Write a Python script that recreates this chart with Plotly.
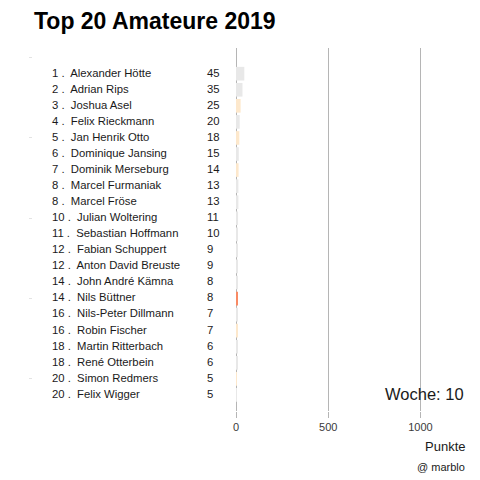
import plotly.graph_objects as go

ranks = [1, 2, 3, 4, 5, 6, 7, 8, 8, 10, 11, 12, 12, 14, 14, 16, 16, 18, 18, 20, 20]
names = ["Alexander Hötte", "Adrian Rips", "Joshua Asel", "Felix Rieckmann",
         "Jan Henrik Otto", "Dominique Jansing", "Dominik Merseburg",
         "Marcel Furmaniak", "Marcel Fröse", "Julian Woltering",
         "Sebastian Hoffmann", "Fabian Schuppert", "Anton David Breuste",
         "John André Kämna", "Nils Büttner", "Nils-Peter Dillmann",
         "Robin Fischer", "Martin Ritterbach", "René Otterbein",
         "Simon Redmers", "Felix Wigger"]
points = [45, 35, 25, 20, 18, 15, 14, 13, 13, 11, 10, 9, 9, 8, 8, 7, 7, 6, 6, 5, 5]
groups = ["g", "g", "o", "g", "o", "g", "o", "g", "g", "g", "g", "g", "g", "g",
          "r", "g", "o", "g", "g", "o", "g"]
week = 10

palette = {"g": "#e8e8e8", "o": "#fde8cc", "r": "#f98a64"}
pos = list(range(1, len(names) + 1))

FONT = "Liberation Sans, Arial, sans-serif"

fig = go.Figure()
fig.add_trace(go.Bar(
    x=points, y=pos, orientation="h", width=0.85,
    marker=dict(color=[palette[g] for g in groups], line=dict(width=0)),
    showlegend=False, hoverinfo="skip",
))
fig.add_trace(go.Scatter(
    x=[-998] * len(names), y=pos, mode="text",
    text=[f"{r} .  {n}" for r, n in zip(ranks, names)],
    textposition="middle right",
    textfont=dict(family=FONT, size=11.3, color="#1a1a1a"),
    showlegend=False, hoverinfo="skip",
))
fig.add_trace(go.Scatter(
    x=[-157] * len(names), y=pos, mode="text",
    text=[str(p) for p in points],
    textposition="middle right",
    textfont=dict(family=FONT, size=11.3, color="#1a1a1a"),
    showlegend=False, hoverinfo="skip",
))

fig.update_layout(
    width=480, height=480,
    margin=dict(l=33, r=10, t=48, b=69),
    paper_bgcolor="white", plot_bgcolor="white",
    font=dict(family=FONT),
    title=dict(text="<b>Top 20 Amateure 2019</b>", x=34 / 480, xanchor="left",
               y=1 - 20.5 / 480, yanchor="middle", yref="container",
               font=dict(family=FONT, size=23, color="#000000")),
    xaxis=dict(range=[-1101, 1269], tickvals=[0, 500, 1000],
               showgrid=True, gridcolor="#b5b5b5", gridwidth=1,
               zeroline=False, showline=False,
               ticks="outside", ticklen=6, tickcolor="#b5b5b5",
               tickfont=dict(family=FONT, size=11, color="#3a3a3a")),
    yaxis=dict(range=[22.0, -0.6], tickvals=[0, 5, 10, 15, 20],
               showticklabels=False, showgrid=False, zeroline=False,
               showline=False, ticks="outside", ticklen=3,
               tickcolor="#e3e3e3"),
    annotations=[
        dict(text=f"Woche: {week}", xref="paper", yref="paper",
             x=1 - 4 / 437, y=(411 - 394) / 363, xanchor="right",
             yanchor="middle", showarrow=False,
             font=dict(family=FONT, size=16.5, color="#1a1a1a")),
        dict(text="Punkte", xref="paper", yref="paper",
             x=1 - 3 / 437, y=-(446.5 - 411) / 363, xanchor="right",
             yanchor="middle", showarrow=False,
             font=dict(family=FONT, size=13, color="#1a1a1a")),
        dict(text="@ marblo", xref="paper", yref="paper",
             x=1 - 3 / 437, y=-(467 - 411) / 363, xanchor="right",
             yanchor="middle", showarrow=False,
             font=dict(family=FONT, size=11, color="#1a1a1a")),
    ],
)

fig.write_html("out.html")
